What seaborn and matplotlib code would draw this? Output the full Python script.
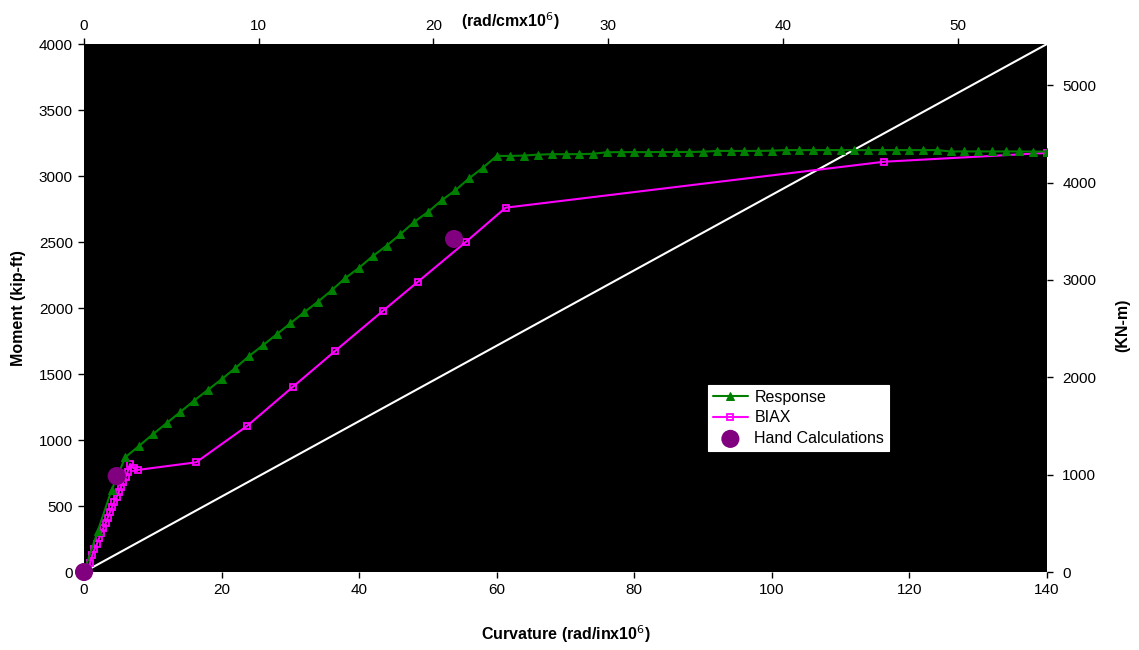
import matplotlib
matplotlib.use("Agg")
import matplotlib.pyplot as plt
import seaborn as sns
import numpy as np
import pandas as pd

# ---------------- data ----------------
resp_x = [0, 2, 4, 6, 8, 10, 12, 14, 16, 18, 20, 22, 24, 26, 28, 30, 32, 34, 36, 38,
          40, 42, 44, 46, 48, 50, 52, 54, 56, 58, 60, 62, 64, 66, 68, 70, 72, 74, 76,
          78, 80, 82, 84, 86, 88, 90, 92, 94, 96, 98, 100, 102, 104, 106, 108, 110,
          112, 114, 116, 118, 120, 122, 124, 126, 128, 130, 132, 134, 136, 138, 140]
resp_y = [0, 310, 620, 869, 955, 1043, 1127, 1212, 1298, 1379, 1460, 1545, 1636, 1717,
          1800, 1884, 1967, 2047, 2134, 2227, 2305, 2394, 2472, 2559, 2652, 2727, 2816,
          2892, 2983, 3063, 3152, 3152, 3155, 3162, 3165, 3165, 3166, 3168, 3180, 3181,
          3181, 3181, 3182, 3182, 3182, 3184, 3190, 3190, 3190, 3190, 3192, 3196, 3196,
          3196, 3196, 3196, 3196, 3196, 3196, 3196, 3196, 3196, 3196, 3186, 3186, 3186,
          3186, 3186, 3186, 3185, 3185]

biax_x = [0, 0.5, 0.87, 1.2, 1.5, 1.85, 2.2, 2.5, 2.8, 3.15, 3.45, 3.8, 4.1, 4.4, 4.75,
          5.04, 5.4, 5.7, 6.06, 6.35, 6.7, 7.2, 7.8, 16.3, 23.7, 30.4, 36.5, 43.5, 48.5,
          55.5, 61.3, 116.3, 140]
biax_y = [0, 30, 66, 129, 172, 210, 255, 293, 331, 369, 412, 457, 495, 533, 571, 604,
          646, 680, 722, 760, 818, 786, 773, 831, 1106, 1404, 1674, 1980, 2197, 2500,
          2760, 3108, 3175]

hand_x = [0, 4.75, 53.8]
hand_y = [0, 727, 2523]

ref_x = [0, 140]
ref_y = [0, 4000]

KIPFT_TO_KNM = 1.3558
IN_TO_CM = 2.54

# ---------------- style ----------------
sns.set_theme(style="ticks")
plt.rcParams["font.family"] = ["Liberation Sans", "DejaVu Sans"]
plt.rcParams.update({"text.color": "black", "axes.labelcolor": "black",
                     "xtick.color": "black", "ytick.color": "black"})

fig = plt.figure(figsize=(11.39, 6.5), dpi=100)
ax = fig.add_axes([84 / 1139, 78 / 650, 963 / 1139, 528 / 650])
ax.set_facecolor("black")

resp_df = pd.DataFrame({"x": resp_x, "y": resp_y})
biax_df = pd.DataFrame({"x": biax_x, "y": biax_y})
hand_df = pd.DataFrame({"x": hand_x, "y": hand_y})
ref_df = pd.DataFrame({"x": ref_x, "y": ref_y})

sns.lineplot(data=ref_df, x="x", y="y", ax=ax, color="white", linewidth=1.5,
             sort=False, estimator=None, legend=False, clip_on=False)
sns.lineplot(data=biax_df, x="x", y="y", ax=ax, color="#FF00FF", linewidth=1.5,
             marker="s", markersize=4.8, markerfacecolor="none",
             markeredgecolor="#FF00FF", markeredgewidth=1.3,
             sort=False, estimator=None, label="BIAX")
sns.lineplot(data=resp_df, x="x", y="y", ax=ax, color="#008000", linewidth=1.5,
             marker="^", markersize=5.5, markeredgecolor="#008000",
             sort=False, estimator=None, label="Response")
sns.scatterplot(data=hand_df, x="x", y="y", ax=ax, color="#800080", s=170,
                edgecolor="none", label="Hand Calculations", zorder=5, clip_on=False)

ax.set_xlim(0, 140)
ax.set_ylim(0, 4000)
ax.set_xticks(np.arange(0, 141, 20))
ax.set_yticks(np.arange(0, 4001, 500))
for s in ax.spines.values():
    s.set_visible(False)
ax.tick_params(axis="both", direction="out", length=4, width=1, color="black",
               labelcolor="black", labelsize=11, pad=4)

ax.set_xlabel("Curvature (rad/inx10$^{6}$)", fontsize=11.5, fontweight="bold",
              labelpad=19, color="black")
ax.set_ylabel("Moment (kip-ft)", fontsize=11.5, fontweight="bold", labelpad=9,
              color="black")

# top axis (rad/cm)
top = ax.secondary_xaxis("top", functions=(lambda v: v / IN_TO_CM,
                                           lambda v: v * IN_TO_CM))
top.set_xticks(np.arange(0, 51, 10))
top.tick_params(direction="out", length=4, width=1, color="black",
                labelcolor="black", labelsize=11, pad=4)
for s in top.spines.values():
    s.set_visible(False)

# right axis (KN-m)
right = ax.secondary_yaxis("right", functions=(lambda v: v * KIPFT_TO_KNM,
                                               lambda v: v / KIPFT_TO_KNM))
right.set_yticks(np.arange(0, 5001, 1000))
right.tick_params(direction="out", length=4, width=1, color="black",
                  labelcolor="black", labelsize=11, pad=7)
for s in right.spines.values():
    s.set_visible(False)

fig.text(510 / 1139, 1 - 21 / 650, "(rad/cmx10$^{6}$)", ha="center", va="center",
         fontsize=11.5, fontweight="bold", color="black")
fig.text(1123 / 1139, 1 - 325 / 650, "(KN-m)", ha="center", va="center",
         rotation=90, fontsize=11.5, fontweight="bold", color="black")

handles, labels = ax.get_legend_handles_labels()
order = [labels.index("Response"), labels.index("BIAX"), labels.index("Hand Calculations")]
leg = ax.legend([handles[i] for i in order], [labels[i] for i in order],
                loc="upper left", bbox_to_anchor=(0.648, 0.354), frameon=True,
                fancybox=False, framealpha=1, facecolor="white", edgecolor="white",
                fontsize=11.5, borderpad=0.3, labelspacing=0.35, handlelength=2.2,
                handletextpad=0.4, borderaxespad=0)
for t in leg.get_texts():
    t.set_color("black")
leg.get_frame().set_linewidth(0.8)

fig.savefig("out.png", dpi=100)
